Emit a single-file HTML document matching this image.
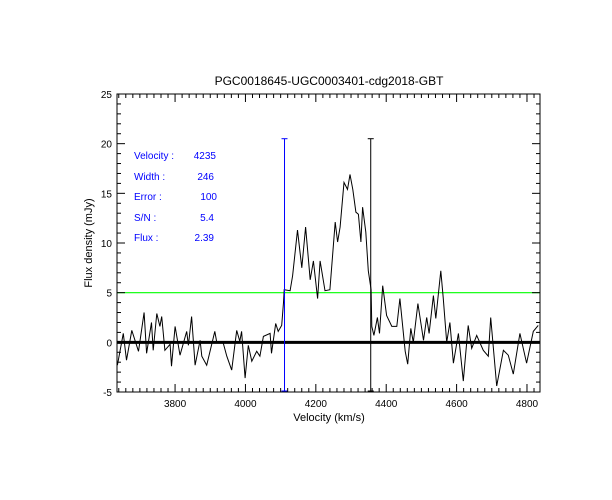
<!DOCTYPE html>
<html><head><meta charset="utf-8"><style>
body{margin:0;background:#fff;}
svg{display:block;font-family:"Liberation Sans",sans-serif;}
</style></head><body>
<svg id="chart" width="612" height="500">
<rect width="612" height="500" fill="#fff"/>
<text x="329" y="85" text-anchor="middle" font-size="12">PGC0018645-UGC0003401-cdg2018-GBT</text>
<text x="329" y="421" text-anchor="middle" font-size="11">Velocity (km/s)</text>
<text transform="translate(92,243) rotate(-90)" text-anchor="middle" font-size="11">Flux density (mJy)</text>
<g id="info" fill="#00f" font-size="10">
<text x="134" y="159">Velocity :</text><text x="216" y="159" text-anchor="end">4235</text>
<text x="134" y="180">Width :</text><text x="214" y="180" text-anchor="end">246</text>
<text x="134" y="200">Error :</text><text x="217" y="200" text-anchor="end">100</text>
<text x="134" y="221">S/N :</text><text x="214" y="221" text-anchor="end">5.4</text>
<text x="134" y="241">Flux :</text><text x="214" y="241" text-anchor="end">2.39</text>
</g>
</svg>
<script>
const velocities=[3636,3653,3662,3677,3696,3712,3719,3733,3738,3748,3757,3762,3771,3786,3790,3800,3814,3833,3838,3847,3857,3871,3876,3890,3913,3918,3937,3947,3961,3975,3984,3989,3999,4008,4018,4032,4041,4051,4070,4074,4086,4093,4103,4108,4110,4127,4134,4148,4160,4171,4184,4193,4205,4212,4226,4240,4255,4262,4269,4280,4290,4297,4305,4314,4321,4328,4333,4342,4349,4357,4359,4365,4375,4381,4390,4401,4416,4430,4439,4454,4461,4470,4477,4490,4506,4515,4522,4534,4541,4555,4562,4572,4581,4591,4605,4619,4633,4643,4657,4676,4690,4697,4714,4733,4747,4761,4780,4799,4818,4832];
const fluxes=[-2.3,0.9,-1.8,1.2,-0.9,3,-1.1,2,-0.8,2.9,1.6,2.6,-0.8,-0.2,-2.4,1.6,-1.3,1.1,-0.3,2.6,-2.3,0.2,-1.4,-2.3,1.1,0.1,-0.1,-1.4,-2.8,1.2,0.1,1.1,-3.6,-0.3,-1.9,-0.9,-1.4,0.6,0.9,-1.1,1.9,1.1,1.7,4,5.3,5.2,6.7,11.3,7.5,11.6,6.3,8.2,4.4,8.2,5.2,5.3,12.1,10.1,11.6,16.1,15.4,16.9,15.4,13.1,12.9,10.1,13.6,11.1,7.2,5.3,1.6,0.7,2.5,0.9,5.7,2.7,1.6,1.6,4.4,-0.9,-2.2,1.4,0,3.9,0.2,2.5,0.9,4.7,2.4,7.2,4.5,0,2,-2.1,0.9,-3.9,1.7,-0.6,0.7,-0.8,-1.4,2.5,-4.4,-0.8,-1.3,-3.2,0.9,-2.1,1.1,1.7];
const xTicks=[3800,4000,4200,4400,4600,4800];
const yTicks=[-5,0,5,10,15,20,25];
const markerVels=[4111,4356];
const markerColors=['#00f','#000'];
const markerTop=20.5;
const threshold=5;
const XMIN=3635,XMAX=4837,YMIN=-5,YMAX=25;
const L=117,R=540,T=94,B=392;
const sx=v=>L+(v-XMIN)/(XMAX-XMIN)*(R-L);
const sy=f=>B-(f-YMIN)/(YMAX-YMIN)*(B-T);
const NS='http://www.w3.org/2000/svg';
const svg=document.getElementById('chart');
function mk(t,a){const e=document.createElementNS(NS,t);for(const k in a)e.setAttribute(k,a[k]);svg.appendChild(e);return e;}
let e;
e=mk('line',{x1:L,x2:R,y1:sy(threshold),y2:sy(threshold),stroke:'#0f0','stroke-width':1.2});


e=mk('line',{x1:L,x2:R,y1:sy(0),y2:sy(0),stroke:'#000','stroke-width':3});


const pts=velocities.map((v,i)=>sx(v).toFixed(1)+','+sy(fluxes[i]).toFixed(1)).join(' ');
e=mk('polyline',{points:pts,fill:'none',stroke:'#000','stroke-width':1});


markerVels.forEach((v,i)=>{
 const x=sx(v),c=markerColors[i];
 let m=mk('line',{x1:x,x2:x,y1:sy(markerTop),y2:B,stroke:c,'stroke-width':1});
 
 
 mk('line',{x1:x-3,x2:x+3,y1:sy(markerTop),y2:sy(markerTop),stroke:c});
 mk('line',{x1:x-3,x2:x+3,y1:B-1,y2:B-1,stroke:c});
});
e=mk('rect',{x:L,y:T,width:R-L,height:B-T,fill:'none',stroke:'#000','stroke-width':1});


for(let v=3640;v<=XMAX;v+=20){const x=sx(v);const maj=v%200===0;const len=maj?8:4;
 mk('line',{x1:x,x2:x,y1:B,y2:B-len,stroke:'#000'});mk('line',{x1:x,x2:x,y1:T,y2:T+len,stroke:'#000'});}
for(let f=YMIN;f<=YMAX;f+=1){const y=sy(f);const maj=f%5===0;const len=maj?8:4;
 mk('line',{x1:L,x2:L+len,y1:y,y2:y,stroke:'#000'});mk('line',{x1:R,x2:R-len,y1:y,y2:y,stroke:'#000'});}
xTicks.forEach(v=>{const t=mk('text',{x:sx(v),y:B+15,'text-anchor':'middle','font-size':10});t.textContent=v;
 
 });
yTicks.forEach(f=>{const t=mk('text',{x:L-5,y:sy(f)+4,'text-anchor':'end','font-size':10});t.textContent=f;
 
 });
</script>
</body></html>
